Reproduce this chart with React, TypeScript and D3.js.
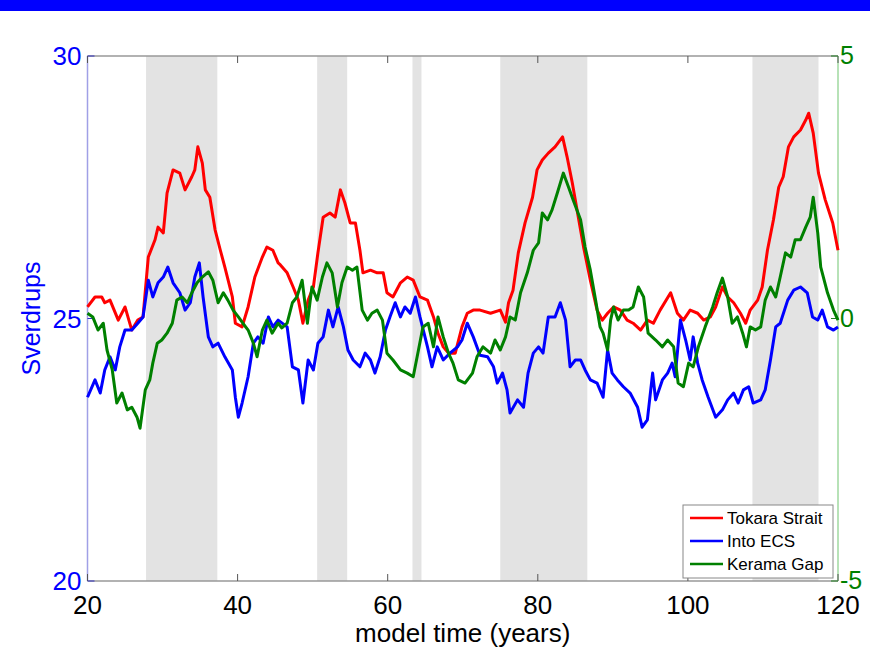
import React from 'react';
import * as d3 from 'd3';

// model time (years) and transport (Sv)
const tokaraYears = [20.0, 21.0, 21.9, 22.3, 23.0, 24.1, 25.0, 25.9, 26.7, 27.4, 28.1, 29.0, 29.4, 30.1, 30.6, 31.4, 32.3, 33.0, 33.9, 34.3, 34.7, 35.3, 35.7, 36.3, 37.0, 37.7, 38.3, 39.3, 39.7, 40.6, 41.4, 42.3, 43.3, 43.9, 44.7, 45.4, 45.7, 46.6, 47.4, 48.1, 48.7, 49.4, 50.1, 50.7, 51.4, 52.3, 53.0, 53.7, 54.3, 55.0, 55.7, 56.3, 56.7, 57.7, 58.6, 59.4, 59.9, 60.7, 61.7, 62.6, 63.4, 64.3, 65.3, 66.1, 66.7, 67.4, 68.1, 69.0, 69.9, 70.6, 71.4, 72.3, 73.7, 75.0, 75.7, 76.1, 76.7, 77.4, 78.3, 79.3, 79.9, 80.6, 81.4, 82.3, 83.3, 83.9, 84.6, 85.3, 86.1, 87.0, 87.9, 88.6, 89.3, 90.1, 91.0, 91.9, 92.7, 93.7, 94.6, 95.4, 96.3, 97.7, 98.6, 99.4, 100.3, 101.3, 102.1, 103.0, 103.7, 104.6, 105.3, 106.1, 107.0, 107.7, 108.3, 109.3, 109.9, 110.6, 111.4, 112.1, 112.7, 113.4, 114.1, 115.0, 115.7, 116.1, 116.7, 117.4, 118.3, 119.3, 120.0];
const tokaraSv = [25.22, 25.41, 25.41, 25.30, 25.35, 24.97, 25.22, 24.78, 24.97, 25.03, 26.17, 26.50, 26.74, 26.63, 27.39, 27.83, 27.77, 27.45, 27.70, 27.83, 28.27, 27.96, 27.45, 27.31, 26.69, 26.30, 25.98, 25.41, 24.91, 24.84, 25.22, 25.79, 26.17, 26.36, 26.30, 26.06, 26.02, 25.87, 25.60, 25.35, 24.91, 25.35, 25.60, 26.25, 26.93, 27.01, 26.93, 27.45, 27.20, 26.82, 26.82, 26.30, 25.87, 25.92, 25.87, 25.87, 25.49, 25.41, 25.68, 25.79, 25.73, 25.41, 25.35, 25.03, 24.72, 24.46, 24.34, 24.34, 24.84, 25.10, 25.16, 25.16, 25.10, 25.16, 24.93, 25.30, 25.54, 26.25, 26.82, 27.31, 27.83, 28.02, 28.15, 28.27, 28.46, 28.08, 27.58, 27.01, 26.36, 25.73, 25.16, 24.97, 25.10, 25.22, 25.16, 24.97, 24.91, 24.78, 24.97, 24.91, 25.16, 25.49, 25.10, 24.97, 25.16, 25.10, 24.97, 25.03, 25.22, 25.60, 25.41, 25.30, 25.10, 24.91, 25.16, 25.35, 25.60, 26.30, 26.88, 27.50, 27.70, 28.27, 28.46, 28.59, 28.78, 28.91, 28.53, 27.77, 27.26, 26.82, 26.30];

const ecsYears = [20.0, 21.0, 21.7, 22.3, 23.0, 23.7, 24.3, 25.0, 25.9, 26.7, 27.4, 28.1, 28.7, 29.4, 30.1, 30.7, 31.4, 32.3, 33.0, 33.7, 34.3, 34.9, 35.4, 36.1, 36.7, 37.4, 38.3, 39.3, 39.7, 40.1, 40.6, 41.4, 42.1, 42.7, 43.4, 44.1, 44.7, 45.4, 46.6, 47.3, 48.1, 48.7, 49.4, 50.1, 50.7, 51.4, 52.1, 52.7, 53.4, 54.1, 54.7, 55.4, 56.3, 57.0, 57.7, 58.3, 59.0, 59.7, 60.3, 61.0, 61.7, 62.3, 63.0, 63.7, 64.3, 65.3, 65.9, 66.6, 67.4, 68.3, 69.3, 69.9, 70.6, 71.4, 72.3, 73.3, 74.1, 74.6, 75.3, 75.9, 76.3, 77.3, 78.1, 78.7, 79.4, 80.1, 80.7, 81.4, 82.3, 83.0, 83.7, 84.3, 85.0, 85.7, 86.3, 87.0, 87.9, 88.7, 89.3, 89.9, 90.6, 91.4, 92.3, 93.3, 93.9, 94.6, 95.3, 95.7, 96.6, 97.3, 97.9, 98.3, 99.0, 99.7, 100.3, 100.7, 101.3, 101.9, 102.7, 103.7, 104.6, 105.3, 106.1, 106.7, 107.4, 108.1, 108.7, 109.7, 110.3, 111.0, 111.7, 112.3, 113.3, 114.1, 115.0, 115.9, 116.6, 117.3, 117.9, 118.6, 119.4, 120.0];
const ecsSv = [23.50, 23.83, 23.58, 24.02, 24.27, 24.02, 24.46, 24.78, 24.78, 24.91, 25.03, 25.73, 25.41, 25.68, 25.79, 25.98, 25.68, 25.49, 25.16, 25.30, 25.79, 26.06, 25.41, 24.65, 24.46, 24.53, 24.27, 24.02, 23.50, 23.12, 23.39, 23.89, 24.53, 24.65, 24.53, 25.03, 24.84, 24.97, 24.84, 24.08, 24.02, 23.39, 24.21, 24.02, 24.53, 24.65, 25.16, 24.84, 25.22, 24.84, 24.40, 24.21, 24.08, 24.34, 24.21, 23.96, 24.27, 24.78, 25.03, 25.30, 25.03, 25.22, 25.10, 25.41, 25.03, 24.46, 24.08, 24.46, 24.21, 24.34, 24.46, 24.59, 24.91, 24.65, 24.30, 24.27, 24.08, 23.77, 23.96, 23.64, 23.20, 23.45, 23.31, 23.96, 24.34, 24.46, 24.34, 25.03, 25.03, 25.30, 24.97, 24.08, 24.21, 24.21, 24.02, 23.83, 23.77, 23.50, 24.40, 23.96, 23.83, 23.70, 23.58, 23.31, 22.93, 23.07, 23.96, 23.45, 23.83, 23.96, 24.15, 23.89, 24.97, 24.59, 24.21, 24.65, 24.15, 23.83, 23.50, 23.12, 23.26, 23.45, 23.58, 23.39, 23.64, 23.70, 23.39, 23.45, 23.64, 24.21, 24.84, 24.91, 25.35, 25.54, 25.60, 25.49, 25.03, 24.97, 25.16, 24.84, 24.78, 24.84];

// Kerama Gap is on the right-hand axis (-5..5)
const keramaYears = [20.0, 20.7, 21.4, 22.1, 22.6, 23.3, 23.9, 24.6, 25.3, 25.9, 26.6, 27.0, 27.7, 28.3, 28.7, 29.3, 29.9, 30.6, 31.3, 31.9, 32.6, 33.3, 33.9, 34.6, 35.3, 36.1, 36.7, 37.4, 38.1, 38.7, 39.4, 40.1, 40.7, 41.4, 42.1, 42.6, 43.3, 43.9, 44.6, 45.4, 45.9, 46.6, 47.3, 47.9, 48.6, 49.3, 49.9, 50.6, 51.3, 51.9, 52.6, 53.3, 53.9, 54.6, 55.3, 55.9, 56.6, 57.3, 57.9, 58.6, 59.3, 59.9, 60.7, 61.7, 62.6, 63.4, 64.1, 64.7, 65.4, 66.1, 66.7, 67.4, 68.1, 68.7, 69.4, 70.3, 71.3, 71.9, 72.7, 73.7, 74.3, 75.0, 75.7, 76.3, 77.0, 77.7, 78.6, 79.4, 80.1, 80.6, 81.3, 81.9, 82.6, 83.4, 84.1, 84.7, 85.7, 86.3, 87.0, 87.7, 88.3, 88.7, 89.3, 89.7, 90.1, 90.7, 91.4, 92.1, 92.7, 93.4, 94.1, 94.7, 95.7, 96.6, 97.3, 98.1, 98.7, 99.4, 100.1, 100.7, 101.4, 102.3, 103.3, 103.9, 104.6, 105.3, 105.9, 106.6, 107.3, 107.8, 108.3, 109.0, 109.7, 110.3, 111.0, 111.7, 112.3, 113.0, 113.7, 114.3, 115.0, 115.7, 116.3, 116.7, 117.3, 117.7, 118.6, 119.4, 120.0];
const keramaSv = [0.10, 0.03, -0.22, -0.09, -0.60, -0.98, -1.61, -1.42, -1.74, -1.69, -1.88, -2.09, -1.36, -1.17, -0.85, -0.47, -0.41, -0.28, -0.09, 0.35, 0.41, 0.30, 0.49, 0.68, 0.79, 0.89, 0.73, 0.30, 0.49, 0.35, 0.16, 0.03, -0.09, -0.22, -0.47, -0.73, -0.22, -0.03, -0.28, -0.09, -0.18, -0.09, 0.30, 0.41, 0.73, -0.09, 0.60, 0.35, 0.79, 1.06, 0.87, 0.22, 0.68, 0.98, 0.92, 0.98, 0.16, -0.03, 0.10, 0.16, -0.03, -0.66, -0.79, -0.98, -1.04, -1.11, -0.60, -0.16, -0.09, -0.54, 0.03, -0.35, -0.66, -0.85, -1.17, -1.23, -1.04, -0.73, -0.54, -0.66, -0.41, -0.60, -0.35, 0.03, -0.03, 0.49, 0.87, 1.30, 1.44, 2.01, 1.88, 2.07, 2.39, 2.77, 2.50, 2.26, 1.88, 1.36, 0.92, 0.35, -0.16, -0.28, -0.60, -0.03, 0.22, -0.03, 0.16, 0.16, 0.22, 0.60, 0.41, -0.28, -0.41, -0.54, -0.41, -0.54, -1.23, -1.30, -0.85, -0.92, -0.54, -0.16, 0.22, 0.49, 0.77, 0.41, -0.09, 0.03, -0.28, -0.54, -0.16, -0.22, -0.16, 0.35, 0.60, 0.41, 0.79, 1.25, 1.17, 1.50, 1.50, 1.74, 1.93, 2.31, 1.63, 0.98, 0.49, 0.16, -0.03];

const shadeStart = [27.8, 50.6, 63.3, 75.0, 108.6];
const shadeEnd = [37.3, 54.6, 64.5, 86.6, 117.4];

const xTicks = [20, 40, 60, 80, 100, 120];
const leftTicks = [20, 25, 30];
const rightTicks = [-5, 0, 5];

const seriesNames = ['Tokara Strait', 'Into ECS', 'Kerama Gap'];
const seriesColors = ['#ff0000', '#0000ff', '#008000'];

const W = 870;
const H = 649;
const margin = { top: 56, right: 32, bottom: 68, left: 87.5 };
const font = 'Liberation Sans, Arial, Helvetica, sans-serif';

export default function App() {
  const x = d3.scaleLinear().domain([20, 120]).range([margin.left, W - margin.right]);
  const yL = d3.scaleLinear().domain([20, 30]).range([H - margin.bottom, margin.top]);
  const yR = d3.scaleLinear().domain([-5, 5]).range([H - margin.bottom, margin.top]);

  const x0 = x(20), x1 = x(120), y0 = yL(20), y1 = yL(30);

  const lineL = d3.line<[number, number]>().x(d => x(d[0])).y(d => yL(d[1]));
  const lineR = d3.line<[number, number]>().x(d => x(d[0])).y(d => yR(d[1]));

  const zip = (a: number[], b: number[]) => a.map((v, i) => [v, b[i]] as [number, number]);
  const paths = [
    lineL(zip(tokaraYears, tokaraSv)),
    lineL(zip(ecsYears, ecsSv)),
    lineR(zip(keramaYears, keramaSv)),
  ];

  const lg = { x: 683, y: 505, w: 150, h: 73 };

  return (
    <svg width={W} height={H} style={{ position: 'absolute', left: 0, top: 0, background: '#fff' }}>
      <rect x={0} y={0} width={W} height={11} fill="#0000ff" />

      {shadeStart.map((s, i) => (
        <rect key={i} x={x(s)} y={y1} width={x(shadeEnd[i]) - x(s)} height={y0 - y1} fill="#e3e3e3" />
      ))}

      {/* frame */}
      <line x1={x0} x2={x1} y1={y1} y2={y1} stroke="#999" strokeWidth={1.5} />
      <line x1={x0} x2={x1} y1={y0} y2={y0} stroke="#999" strokeWidth={1.5} />
      <line x1={x0} x2={x0} y1={y1} y2={y0} stroke="#a0a0e6" strokeWidth={1.5} />
      <line x1={x1} x2={x1} y1={y1} y2={y0} stroke="#9fd89f" strokeWidth={1.5} />

      {xTicks.map(t => (
        <g key={t}>
          <line x1={x(t)} x2={x(t)} y1={y0} y2={y0 - 7} stroke="#555" />
          <line x1={x(t)} x2={x(t)} y1={y1} y2={y1 + 7} stroke="#555" />
          <text x={x(t)} y={y0 + 33} textAnchor="middle" fontFamily={font} fontSize={26} fill="#000">{t}</text>
        </g>
      ))}

      {leftTicks.map(t => (
        <g key={t}>
          <line x1={x0} x2={x0 + 7} y1={yL(t)} y2={yL(t)} stroke="#3030c0" />
          <text x={x0 - 6} y={yL(t) + 9} textAnchor="end" fontFamily={font} fontSize={26} fill="#0000ff">{t}</text>
        </g>
      ))}

      {rightTicks.map(t => (
        <g key={t}>
          <line x1={x1} x2={x1 - 7} y1={yR(t)} y2={yR(t)} stroke="#208020" />
          <text x={x1 + 2} y={yR(t) + 8} textAnchor="start" fontFamily={font} fontSize={25} fill="#008000">{t}</text>
        </g>
      ))}

      <text x={(x0 + x1) / 2} y={H - 7} textAnchor="middle" fontFamily={font} fontSize={26} fill="#000">model time (years)</text>
      <text transform={`translate(40, ${(y0 + y1) / 2}) rotate(-90)`} textAnchor="middle" fontFamily={font} fontSize={25} fill="#0000ff">Sverdrups</text>

      {paths.map((p, i) => (
        <path key={i} d={p ?? ''} fill="none" stroke={seriesColors[i]} strokeWidth={3} strokeLinejoin="round" />
      ))}

      <rect x={lg.x} y={lg.y} width={lg.w} height={lg.h} fill="#fff" stroke="#888" />
      {seriesNames.map((n, i) => (
        <g key={n}>
          <line x1={lg.x + 7} x2={lg.x + 40} y1={lg.y + 13 + i * 23} y2={lg.y + 13 + i * 23} stroke={seriesColors[i]} strokeWidth={2.5} />
          <text x={lg.x + 44} y={lg.y + 19 + i * 23} fontFamily={font} fontSize={17} fill="#000">{n}</text>
        </g>
      ))}
    </svg>
  );
}
